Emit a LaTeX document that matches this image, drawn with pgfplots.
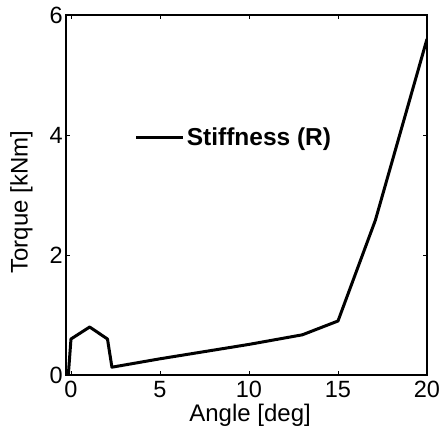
\documentclass[border=0pt]{standalone}
\usepackage{fontspec}
\setmainfont{Liberation Sans}
\usepackage{pgfplots}
\pgfplotsset{compat=1.18}
\begin{document}
\begin{tikzpicture}[font=\fontsize{24bp}{28bp}\selectfont]
\useasboundingbox (-66bp,-53bp) rectangle (375bp,375bp);
\begin{axis}[
 at={(0,0)}, anchor=south west,
 scale only axis, width=361bp, height=360bp,
 xmin=-0.28, xmax=20, ymin=0, ymax=6,
 xtick={0,5,10,15,20}, ytick={0,2,4,6},
 tick align=inside, major tick length=4bp,
 every tick/.style={black, line width=0.8bp},
 axis line style={line width=1.5bp},
 /pgf/number format/assume math mode=true,
 tick label style={font=\fontsize{23.5bp}{28bp}\selectfont},
 xticklabel style={inner sep=0pt, yshift=-6bp},
 yticklabel style={inner sep=0pt, xshift=-3bp},
 xlabel={Angle [deg]}, ylabel={Torque [kNm]},
 xlabel style={at={(axis description cs:0.51,-0.08)}, anchor=north, inner sep=0pt},
 ylabel style={at={(axis description cs:-0.092,0.48)}, anchor=south, inner sep=0pt},
 legend style={at={(axis description cs:0.19,0.661)}, anchor=west, draw=none, fill=none, inner sep=0pt,
   font=\bfseries\fontsize{24.5bp}{28bp}\selectfont},
 legend image code/.code={\draw[line width=3bp] (-6bp,0bp) -- (41bp,0bp);},
]
\addplot[black, line width=3bp, line join=round] coordinates {
 (-0.15,0) (0,0.6) (1.05,0.8) (2.05,0.6) (2.3,0.13) (5,0.27) (10,0.51) (13,0.67) (15,0.9) (17.1,2.58) (20,5.6)
};
\addlegendentry{Stiffness (R)}
\end{axis}
\end{tikzpicture}
\end{document}
